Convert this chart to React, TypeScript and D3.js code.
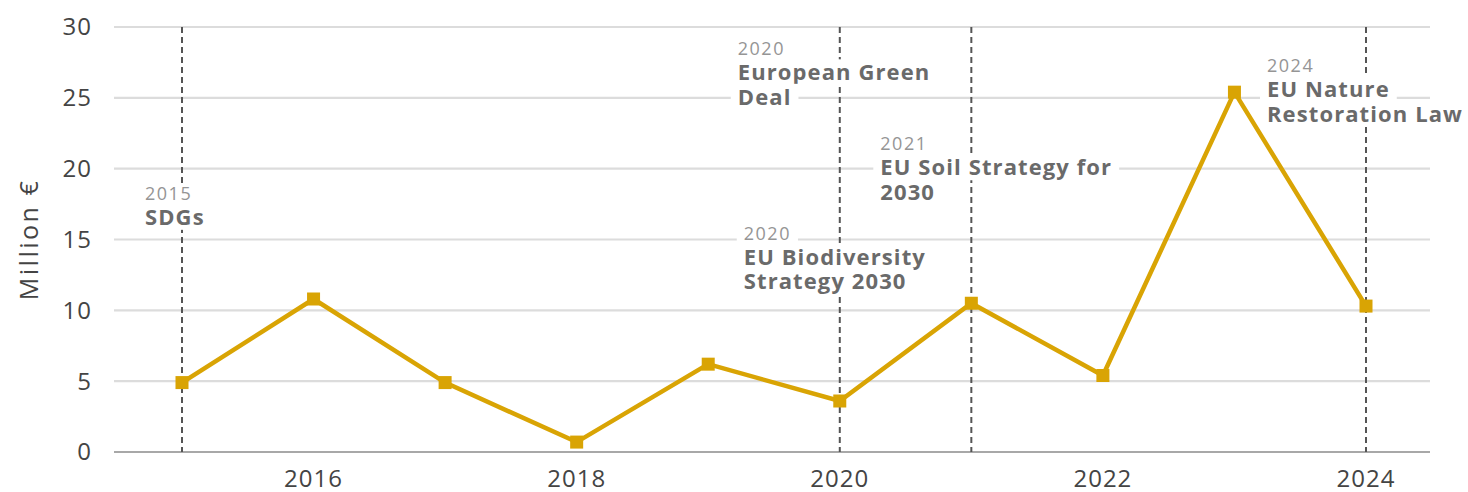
import React, { useEffect, useRef } from "react";
import * as d3 from "d3";

const years = [2015, 2016, 2017, 2018, 2019, 2020, 2021, 2022, 2023, 2024];
const values = [4.9, 10.8, 4.9, 0.7, 6.2, 3.6, 10.5, 5.4, 25.4, 10.3];
const yTicks = [0, 5, 10, 15, 20, 25, 30];
const xTicks = [2016, 2018, 2020, 2022, 2024];
const eventYears = [2015, 2020, 2020, 2021, 2024];
const eventLabelYears = ["2015", "2020", "2020", "2021", "2024"];
const eventTitles = [
  ["SDGs"],
  ["European Green", "Deal"],
  ["EU Biodiversity", "Strategy 2030"],
  ["EU Soil Strategy for", "2030"],
  ["EU Nature", "Restoration Law"],
];
const yAxisTitle = "Million €";

// label placement: pixel offset from event x, and baseline of the year line in value units
const labelLayout = [
  { dx: -37, v: 17.8 },
  { dx: -102, v: 28.0 },
  { dx: -96, v: 15.0 },
  { dx: -91, v: 21.3 },
  { dx: -99, v: 26.8 },
];

const W = 1468;
const H = 492;
const FONT = "'Open Sans', 'DejaVu Sans', sans-serif";
const GOLD = "#D9A404";

export default function App() {
  const ref = useRef<SVGSVGElement | null>(null);

  useEffect(() => {
    const svg = d3.select(ref.current);
    svg.selectAll("*").remove();

    const x = d3.scaleLinear().domain([2015, 2024]).range([182, 1366]);
    const y = d3.scaleLinear().domain([0, 30]).range([452, 27]);
    const gridX0 = 114;
    const gridX1 = 1430;

    // gridlines
    svg
      .append("g")
      .selectAll("line")
      .data(yTicks)
      .join("line")
      .attr("x1", gridX0)
      .attr("x2", gridX1)
      .attr("y1", (d) => y(d))
      .attr("y2", (d) => y(d))
      .attr("stroke", (d) => (d === 0 ? "#a8a8a8" : "#dcdcdc"))
      .attr("stroke-width", 2.2);

    // y tick labels
    svg
      .append("g")
      .selectAll("text")
      .data(yTicks)
      .join("text")
      .attr("x", 92)
      .attr("y", (d) => y(d))
      .attr("dy", "0.35em")
      .attr("text-anchor", "end")
      .attr("font-family", FONT)
      .attr("font-size", 24)
      .attr("letter-spacing", 1)
      .attr("fill", "#444")
      .text((d) => String(d));

    // x tick labels
    svg
      .append("g")
      .selectAll("text")
      .data(xTicks)
      .join("text")
      .attr("x", (d) => x(d))
      .attr("y", 487)
      .attr("text-anchor", "middle")
      .attr("font-family", FONT)
      .attr("font-size", 24)
      .attr("letter-spacing", 1)
      .attr("fill", "#444")
      .text((d) => String(d));

    // y axis title
    svg
      .append("text")
      .attr("transform", `translate(38, ${y(15)}) rotate(-90)`)
      .attr("text-anchor", "middle")
      .attr("font-family", FONT)
      .attr("font-size", 25)
      .attr("letter-spacing", 2.5)
      .attr("fill", "#444")
      .text(yAxisTitle);

    // dashed event lines
    const uniqueEventYears = Array.from(new Set(eventYears));
    svg
      .append("g")
      .selectAll("line")
      .data(uniqueEventYears)
      .join("line")
      .attr("x1", (d) => x(d))
      .attr("x2", (d) => x(d))
      .attr("y1", y(30))
      .attr("y2", y(0))
      .attr("stroke", "#555")
      .attr("stroke-width", 2)
      .attr("stroke-dasharray", "6,4");

    // event labels with white background per line
    const labelG = svg.append("g");
    eventYears.forEach((ey, i) => {
      const lx = x(ey) + labelLayout[i].dx;
      const ly = y(labelLayout[i].v);
      const g = labelG.append("g");
      const rows: { text: string; yy: number; year: boolean }[] = [
        { text: eventLabelYears[i], yy: ly, year: true },
        ...eventTitles[i].map((t, k) => ({ text: t, yy: ly + 25 + k * 24.5, year: false })),
      ];
      rows.forEach((r) => {
        const bg = g.append("rect").attr("fill", "#fff");
        const t = g
          .append("text")
          .attr("x", lx)
          .attr("y", r.yy)
          .attr("font-family", FONT)
          .attr("font-size", r.year ? 18 : 22)
          .attr("letter-spacing", r.year ? 1.5 : 1.1)
          .attr("font-weight", r.year ? 400 : 700)
          .attr("fill", r.year ? "#959595" : "#6a6a6a")
          .text(r.text);
        const bb = (t.node() as SVGTextElement).getBBox();
        bg.attr("x", bb.x - 7)
          .attr("y", bb.y + 3)
          .attr("width", bb.width + 14)
          .attr("height", bb.height - 4);
      });
    });

    // data line
    const line = d3
      .line<number>()
      .x((_, i) => x(years[i]))
      .y((d) => y(d));
    svg
      .append("path")
      .datum(values)
      .attr("d", line)
      .attr("fill", "none")
      .attr("stroke", GOLD)
      .attr("stroke-width", 4.5)
      .attr("stroke-linejoin", "miter");

    svg
      .append("g")
      .selectAll("rect")
      .data(values)
      .join("rect")
      .attr("x", (_, i) => x(years[i]) - 6.5)
      .attr("y", (d) => y(d) - 6.5)
      .attr("width", 13)
      .attr("height", 13)
      .attr("fill", GOLD);
  }, []);

  return (
    <svg
      ref={ref}
      width={W}
      height={H}
      style={{ position: "absolute", left: 0, top: 0, background: "#fff" }}
    />
  );
}
